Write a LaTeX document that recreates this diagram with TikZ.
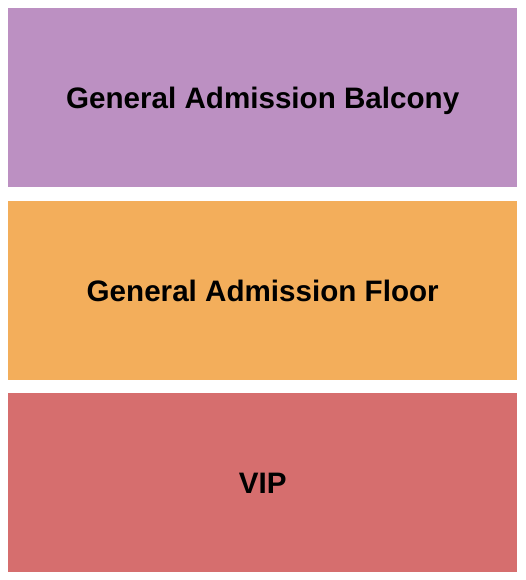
\documentclass[tikz,border=0pt]{standalone}
\usepackage{fontspec}
\setmainfont{Liberation Sans}
\definecolor{balcony}{RGB}{188,144,194}
\definecolor{floorc}{RGB}{243,174,91}
\definecolor{vipc}{RGB}{214,110,110}
\tikzset{
  section/.style={draw=none, inner sep=0pt, minimum width=509pt, minimum height=179pt, anchor=north west,
    font=\fontsize{29.6pt}{34pt}\selectfont\bfseries, text=black,
    text height=22pt, text depth=0pt}
}
\begin{document}
\begin{tikzpicture}[x=1pt,y=-1pt]
\useasboundingbox (0,0) rectangle (525,580);
\node[section, fill=balcony] (balc) at (8,8) {General Admission Balcony};
\node[section, fill=floorc] (floor) at (8,201) {General Admission Floor};
\node[section, fill=vipc] (vip) at (8,393) {VIP};
\end{tikzpicture}
\end{document}
